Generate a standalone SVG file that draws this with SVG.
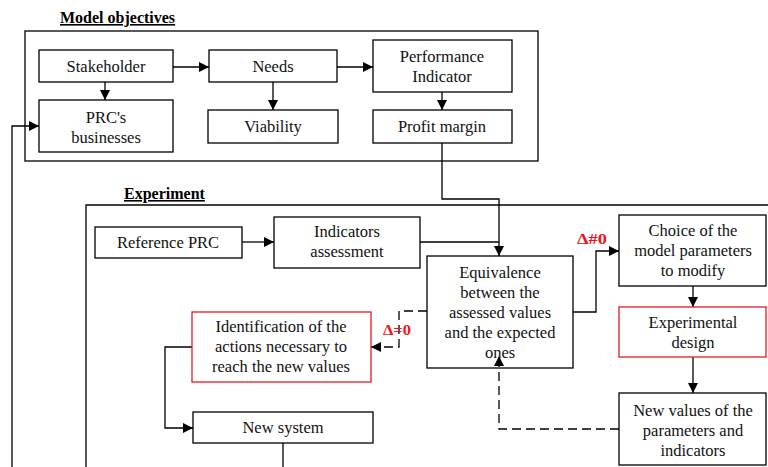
<svg xmlns="http://www.w3.org/2000/svg" width="768" height="467" viewBox="0 0 768 467">
<defs>
<marker id="ah" viewBox="0 0 10 10" refX="10" refY="5" markerWidth="10" markerHeight="10" markerUnits="userSpaceOnUse" orient="auto">
<path d="M0,0 L10,5 L0,10 z" fill="#000"/>
</marker>
</defs>
<style>
.box{fill:#fff;stroke:#000;stroke-width:1.3}
.rbox{fill:#fff;stroke:#e8191e;stroke-width:1.3}
.frame{fill:none;stroke:#000;stroke-width:1.3}
.t{font-family:"Liberation Serif","Times New Roman",serif;font-size:16.5px;fill:#111;text-anchor:middle}
.title{font-family:"Liberation Serif","Times New Roman",serif;font-size:16px;font-weight:bold;fill:#000;text-decoration:underline}
.d{font-family:"Liberation Serif","Times New Roman",serif;font-size:14px;font-weight:bold;fill:#e8191e}
.c{fill:none;stroke:#000;stroke-width:1.3}
.dash{fill:none;stroke:#000;stroke-width:1.3;stroke-dasharray:9,5}
</style>
<rect width="768" height="467" fill="#fff"/>
<g id="model-objectives">
<text class="title" x="60" y="23">Model objectives</text>
<rect class="frame" x="25" y="31" width="513" height="130"/>
</g>
<g id="experiment">
<text class="title" x="124" y="199">Experiment</text>
<path class="frame" d="M86,470 V205 H770"/>
</g>
<g id="connectors">
<path class="c" d="M173,67 H209" marker-end="url(#ah)"/>
<path class="c" d="M337,67 H373" marker-end="url(#ah)"/>
<path class="c" d="M105,82 V100" marker-end="url(#ah)"/>
<path class="c" d="M273,82 V110" marker-end="url(#ah)"/>
<path class="c" d="M442,92 V110" marker-end="url(#ah)"/>
<path class="c" d="M442,143 V199 H499 V256" marker-end="url(#ah)"/>
<path class="c" d="M420,242 H499"/>
<path class="c" d="M242,242 H274" marker-end="url(#ah)"/>
<path class="c" d="M573,312 H596 V251 H619" marker-end="url(#ah)"/>
<path class="c" d="M693,286 V307" marker-end="url(#ah)"/>
<path class="c" d="M693,357 V393" marker-end="url(#ah)"/>
<path class="dash" d="M619,429 H499 V356" marker-end="url(#ah)"/>
<path class="dash" d="M427,311 H399 V347 H371" marker-end="url(#ah)"/>
<path class="c" d="M192,347 H165 V428 H193" marker-end="url(#ah)"/>
<path class="c" d="M283,443 V470"/>
<path class="c" d="M12,470 V126 H39" marker-end="url(#ah)"/>
</g>
<g id="stakeholder"><rect class="box" x="39" y="50" width="134" height="32"/><text class="t" x="106" y="72">Stakeholder</text></g>
<g id="needs"><rect class="box" x="209" y="50" width="128" height="32"/><text class="t" x="273" y="72">Needs</text></g>
<g id="performance-indicator"><rect class="box" x="373" y="40" width="139" height="52"/><text class="t" x="442" y="62">Performance</text><text class="t" x="442" y="82">Indicator</text></g>
<g id="prc-businesses"><rect class="box" x="39" y="100" width="134" height="52"/><text class="t" x="106" y="123">PRC's</text><text class="t" x="106" y="143">businesses</text></g>
<g id="viability"><rect class="box" x="208" y="110" width="130" height="33"/><text class="t" x="273" y="132">Viability</text></g>
<g id="profit-margin"><rect class="box" x="373" y="110" width="139" height="33"/><text class="t" x="442" y="132">Profit margin</text></g>
<g id="reference-prc"><rect class="box" x="95" y="227" width="147" height="31"/><text class="t" x="168" y="248">Reference PRC</text></g>
<g id="indicators-assessment"><rect class="box" x="274" y="217" width="146" height="51"/><text class="t" x="347" y="237">Indicators</text><text class="t" x="347" y="257">assessment</text></g>
<g id="equivalence"><rect class="box" x="427" y="256" width="146" height="112" fill-opacity="0"/><text class="t" x="500" y="278">Equivalence</text><text class="t" x="500" y="298">between the</text><text class="t" x="500" y="318">assessed values</text><text class="t" x="500" y="338">and the expected</text><text class="t" x="500" y="358">ones</text></g>
<g id="choice"><rect class="box" x="619" y="215" width="147" height="71"/><text class="t" x="693" y="236">Choice of the</text><text class="t" x="693" y="256">model parameters</text><text class="t" x="693" y="276">to modify</text></g>
<g id="experimental-design"><rect class="rbox" x="619" y="307" width="147" height="50"/><text class="t" x="693" y="328">Experimental</text><text class="t" x="693" y="348">design</text></g>
<g id="new-values"><rect class="box" x="619" y="393" width="147" height="72"/><text class="t" x="693" y="416">New values of the</text><text class="t" x="693" y="436">parameters and</text><text class="t" x="693" y="456">indicators</text></g>
<g id="identification"><rect class="rbox" x="192" y="312" width="179" height="70"/><text class="t" x="281" y="332">Identification of the</text><text class="t" x="281" y="352">actions necessary to</text><text class="t" x="281" y="372">reach the new values</text></g>
<g id="new-system"><rect class="box" x="193" y="412" width="180" height="31"/><text class="t" x="283" y="433">New system</text></g>
<g id="labels">
<text class="d" x="577" y="244" textLength="30" lengthAdjust="spacingAndGlyphs">Δ#0</text>
<text class="d" x="383" y="335" textLength="28" lengthAdjust="spacingAndGlyphs">Δ=0</text>
</g>
</svg>
